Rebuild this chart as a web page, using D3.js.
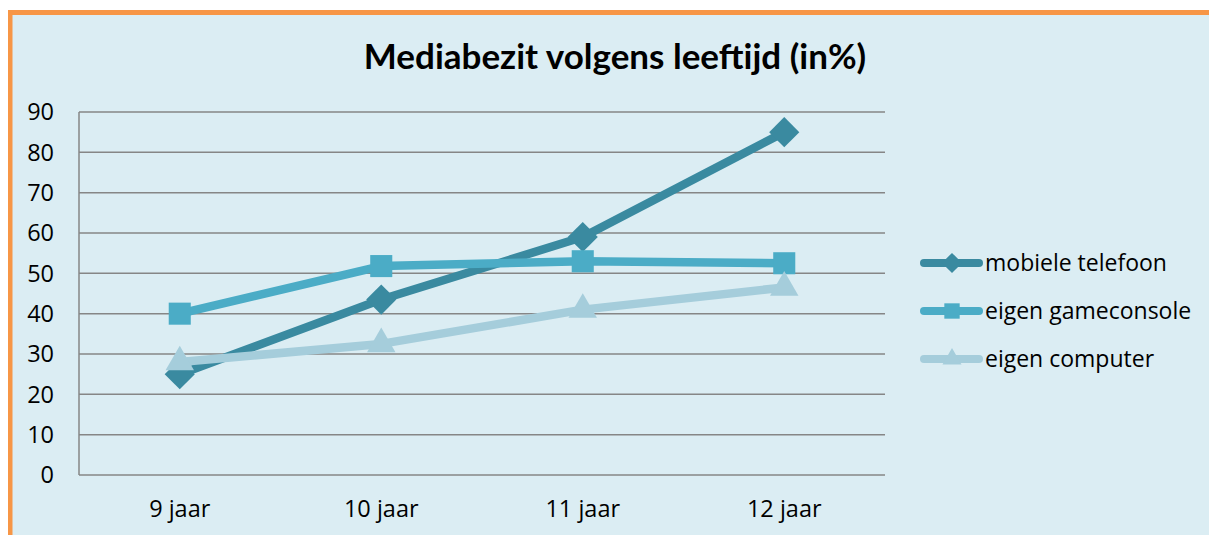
<!DOCTYPE html>
<html>
<head>
<meta charset="utf-8">
<script src="https://cdn.jsdelivr.net/npm/d3@7"></script>
<style>
  html, body { margin: 0; padding: 0; background: #fff; }
  svg { display: block; }
  .tick-label { font-family: "Open Sans", sans-serif; font-size: 23.5px; fill: #000; }
</style>
</head>
<body>
<svg id="chart"></svg>
<script>
// data
const categories = ['9 jaar', '10 jaar', '11 jaar', '12 jaar'];
const seriesNames = ['mobiele telefoon', 'eigen gameconsole', 'eigen computer'];
const mobieleTelefoon = [25, 43.5, 59, 85];
const eigenGameconsole = [40, 51.8, 53, 52.5];
const eigenComputer = [28, 32.5, 41, 46.5];
const yTicks = [0, 10, 20, 30, 40, 50, 60, 70, 80, 90];

const config = {
  width: 1209,
  height: 535,
  margin: { top: 112, left: 79, right: 324, bottom: 60 },
  colors: ['#3A8AA0', '#4BACC6', '#A5CDDB'],
  symbols: [d3.symbolDiamond2, d3.symbolSquare2, d3.symbolTriangle2]
};

const series = [mobieleTelefoon, eigenGameconsole, eigenComputer].map((values, i) => ({
  name: seriesNames[i],
  values: values.map((v, j) => ({ cat: categories[j], value: v })),
  color: config.colors[i],
  symbol: config.symbols[i]
}));

const svg = d3.select('#chart')
  .attr('width', config.width)
  .attr('height', config.height);

// background + orange frame
svg.append('rect').attr('x', 10).attr('y', 12).attr('width', config.width).attr('height', config.height)
  .attr('fill', '#DBEDF3');
svg.append('rect').attr('x', 8).attr('y', 10).attr('width', config.width).attr('height', 5).attr('fill', '#F79646');
svg.append('rect').attr('x', 8).attr('y', 10).attr('width', 4.5).attr('height', config.height).attr('fill', '#F79646');

const innerW = config.width - config.margin.left - config.margin.right;
const innerH = 363;

const xScale = d3.scaleBand().domain(categories).range([0, innerW]);
const yScale = d3.scaleLinear().domain([0, 90]).range([innerH, 0]);

const chart = svg.append('g')
  .attr('transform', `translate(${config.margin.left},${config.margin.top})`);

// grid
chart.selectAll('.grid').data(yTicks).join('line')
  .attr('x1', 0).attr('x2', innerW)
  .attr('y1', d => yScale(d)).attr('y2', d => yScale(d))
  .attr('stroke', '#868686').attr('stroke-width', 1.5);
chart.append('line').attr('x1', 0).attr('x2', 0).attr('y1', 0).attr('y2', innerH)
  .attr('stroke', '#868686').attr('stroke-width', 1.5);

// y labels
chart.selectAll('.ylab').data(yTicks).join('text')
  .attr('class', 'tick-label')
  .attr('x', -25).attr('y', d => yScale(d))
  .attr('dy', '0.35em')
  .attr('text-anchor', 'end')
  .text(d => d);

// x labels
chart.selectAll('.xlab').data(categories).join('text')
  .attr('class', 'tick-label')
  .attr('x', d => xScale(d) + xScale.bandwidth() / 2)
  .attr('y', innerH + 42)
  .attr('text-anchor', 'middle')
  .text(d => d);

// lines
const line = d3.line()
  .x(d => xScale(d.cat) + xScale.bandwidth() / 2)
  .y(d => yScale(d.value));

series.forEach(s => {
  const g = chart.append('g');
  g.append('path').datum(s.values)
    .attr('d', line)
    .attr('fill', 'none')
    .attr('stroke', s.color)
    .attr('stroke-width', 8.5)
    .attr('stroke-linejoin', 'round');
  g.selectAll('.pt').data(s.values).join('path')
    .attr('transform', d => `translate(${xScale(d.cat) + xScale.bandwidth() / 2},${yScale(d.value)})`)
    .attr('d', d3.symbol().type(s.symbol).size(s.symbol === d3.symbolSquare2 ? 620 : 580))
    .attr('fill', s.color);
});

// title
svg.append('text')
  .attr('x', 615).attr('y', 69)
  .attr('text-anchor', 'middle')
  .style('font-family', 'Lato, sans-serif')
  .style('font-weight', 'bold')
  .style('font-size', '35px')
  .text('Mediabezit volgens leeftijd (in%)');

// legend
const legend = svg.append('g').attr('transform', 'translate(922,263)');
series.forEach((s, i) => {
  const row = legend.append('g').attr('transform', `translate(0,${i * 48})`);
  row.append('line').attr('x1', 2).attr('x2', 57).attr('y1', 0).attr('y2', 0)
    .attr('stroke', s.color).attr('stroke-width', 8).attr('stroke-linecap', 'round');
  row.append('path').attr('transform', 'translate(30,0)')
    .attr('d', d3.symbol().type(s.symbol).size(s.symbol === d3.symbolSquare2 ? 300 : 260))
    .attr('fill', s.color);
  row.append('text')
    .attr('x', 63).attr('y', 0).attr('dy', '0.35em')
    .style('font-family', '"Open Sans", sans-serif')
    .style('font-size', '23px')
    .text(s.name);
});
</script>
</body>
</html>
